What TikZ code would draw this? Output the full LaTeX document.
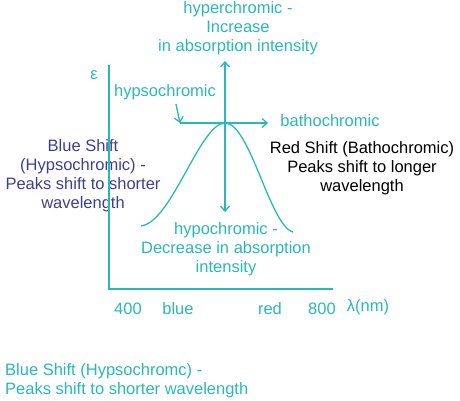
\documentclass[tikz,border=0pt]{standalone}
\usepackage{fontspec}
\setmainfont{Liberation Sans}
\usetikzlibrary{arrows.meta}
\definecolor{teal1}{HTML}{29B8B8}
\definecolor{navy1}{HTML}{3F3F8F}
\begin{document}
\begin{tikzpicture}[x=1pt,y=-1pt,
  lbl/.style={font=\fontsize{16.5}{19}\selectfont, inner sep=0pt, align=center, text=teal1},
  ln/.style={draw=teal1, line width=1.3pt},
  tip/.style={-{Straight Barb[length=5pt,width=9pt]}}]
\useasboundingbox (0,0) rectangle (460,400);
% texts
\node[lbl] (hyper) at (238,28) {hyperchromic -\\Increase\\in absorption intensity};
\node[lbl] (eps) at (94,75) {ε};
\node[lbl] (hypso) at (165,92) {hypsochromic};
\node[lbl] (batho) at (330,121) {bathochromic};
\node[lbl, text=navy1] (blue) at (83,175.5) {Blue Shift\\(Hypsochromic) -\\Peaks shift to shorter\\wavelength};
\node[lbl, text=black] (red) at (362,168) {Red Shift (Bathochromic)\\Peaks shift to longer\\wavelength};
\node[lbl] (hypo) at (226,249) {hypochromic -\\Decrease in absorption\\intensity};
\node[lbl] (t400) at (128,309) {400};
\node[lbl] (tblue) at (178,309) {blue};
\node[lbl] (tred) at (270,309) {red};
\node[lbl] (t800) at (322,309) {800};
\node[lbl] (lam) at (368,307) {λ(nm)};
\node[lbl, align=left, anchor=west] (note) at (5,381) {Blue Shift (Hypsochromc) -\\Peaks shift to shorter wavelength};
% coordinates
\coordinate (ytop) at (109,65);
\coordinate (orig) at (109,289);
\coordinate (xend) at (333,289);
\coordinate (vtop) at (225,61);
\coordinate (vbot) at (225,212);
\coordinate (hl) at (180,123);
\coordinate (hr) at (268,123);
\coordinate (dstart) at (176,104);
\coordinate (peak) at (225,123);
\coordinate (cl) at (141,226);
\coordinate (cr) at (293,232);
% axes
\draw[ln] (ytop) -- (orig) -- (xend);
% arrows
\draw[ln, {Straight Barb[length=5pt,width=9pt]}-{Straight Barb[length=5pt,width=9pt]}] (vtop) -- (vbot);
\draw[ln, tip] (hl) -- (hr);
\draw[ln, tip] (dstart) -- (hl);
% curve
\draw[ln] (cl) .. controls (172,222) and (200,123) .. (peak)
  .. controls (250,123) and (270,226) .. (cr);
\end{tikzpicture}
\end{document}
